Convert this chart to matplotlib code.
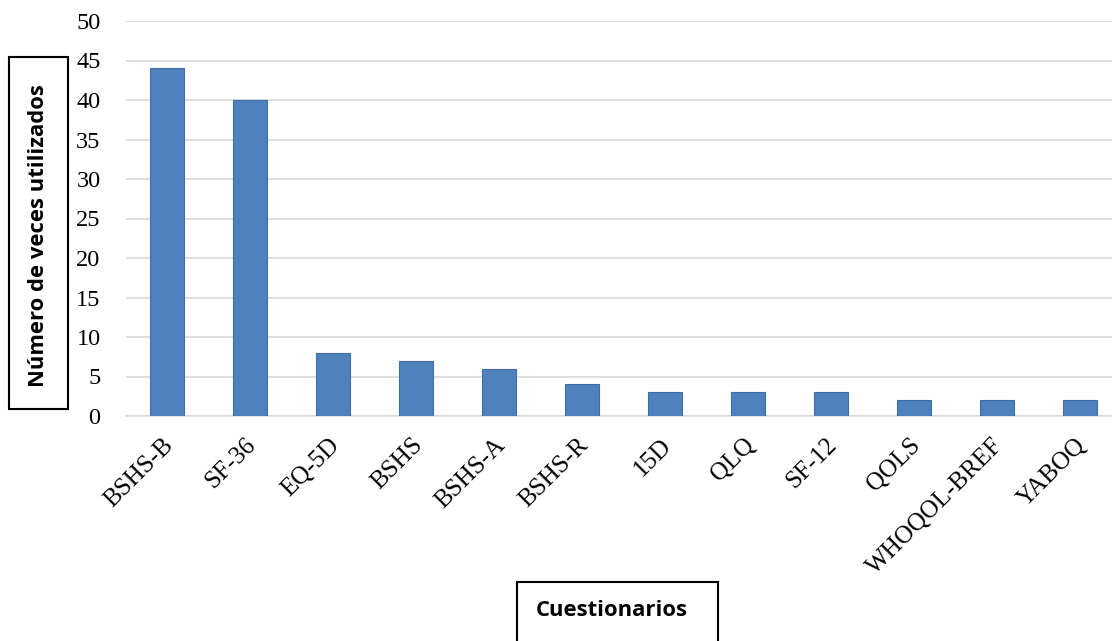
import matplotlib
matplotlib.use("Agg")
import matplotlib.pyplot as plt
import matplotlib.transforms as mtransforms
from matplotlib.patches import Rectangle

categories = ["BSHS-B", "SF-36", "EQ-5D", "BSHS", "BSHS-A", "BSHS-R", "15D",
              "QLQ", "SF-12", "QOLS", "WHOQOL-BREF", "YABOQ"]
values = [44, 40, 8, 7, 6, 4, 3, 3, 3, 2, 2, 2]
y_ticks = [0, 5, 10, 15, 20, 25, 30, 35, 40, 45, 50]

W, H = 1112, 641
fig = plt.figure(figsize=(W / 100, H / 100), dpi=100)
# axes in pixel coordinates
left, right, top, bottom = 125.5, 1121.5, 21, 416
ax = fig.add_axes([left / W, 1 - bottom / H, (right - left) / W, (bottom - top) / H])

x = list(range(len(categories)))
ax.bar(x, values, width=0.4, color="#4f81bd", edgecolor="#3f6fa8", linewidth=0.8, zorder=3)
ax.set_xlim(-0.5, len(categories) - 0.5)
ax.set_ylim(0, 50)
ax.set_yticks(y_ticks)
ax.set_yticklabels([str(t) for t in y_ticks], fontfamily="Liberation Serif", fontsize=17.5)
ax.set_xticks(x)
ax.set_xticklabels(categories, rotation=45, ha="right", rotation_mode="anchor",
                   fontfamily="Liberation Serif", fontsize=18)
ax.tick_params(axis="both", length=0)
ax.tick_params(axis="y", pad=18)
ax.tick_params(axis="x", pad=13)
shift = mtransforms.ScaledTranslation(-5 / 100, 0, fig.dpi_scale_trans)
for lbl in ax.get_xticklabels():
    lbl.set_transform(lbl.get_transform() + shift)
ax.grid(axis="y", color="#d9d9d9", linewidth=1.2, zorder=0)
for s in ["top", "right", "left"]:
    ax.spines[s].set_visible(False)
ax.spines["bottom"].set_color("#d9d9d9")
ax.spines["bottom"].set_linewidth(1.2)

# y label box
fig.patches.append(Rectangle((9 / W, 1 - 409 / H), (68 - 9) / W, (409 - 57) / H,
                             transform=fig.transFigure, fill=False, edgecolor="black",
                             linewidth=1.5, figure=fig))
fig.text(38.5 / W, 1 - 236 / H, "Número de veces utilizados", rotation=90,
         ha="center", va="center", fontfamily="Open Sans", fontweight="bold", fontsize=15.8)

# x label box
fig.patches.append(Rectangle((517 / W, 1 - 645 / H), (718 - 517) / W, (645 - 582) / H,
                             transform=fig.transFigure, fill=False, edgecolor="black",
                             linewidth=1.5, figure=fig, clip_on=False))
fig.text(612 / W, 1 - 611 / H, "Cuestionarios", ha="center", va="center",
         fontfamily="Open Sans", fontweight="bold", fontsize=15.8)

fig.savefig("out.png", dpi=100)
